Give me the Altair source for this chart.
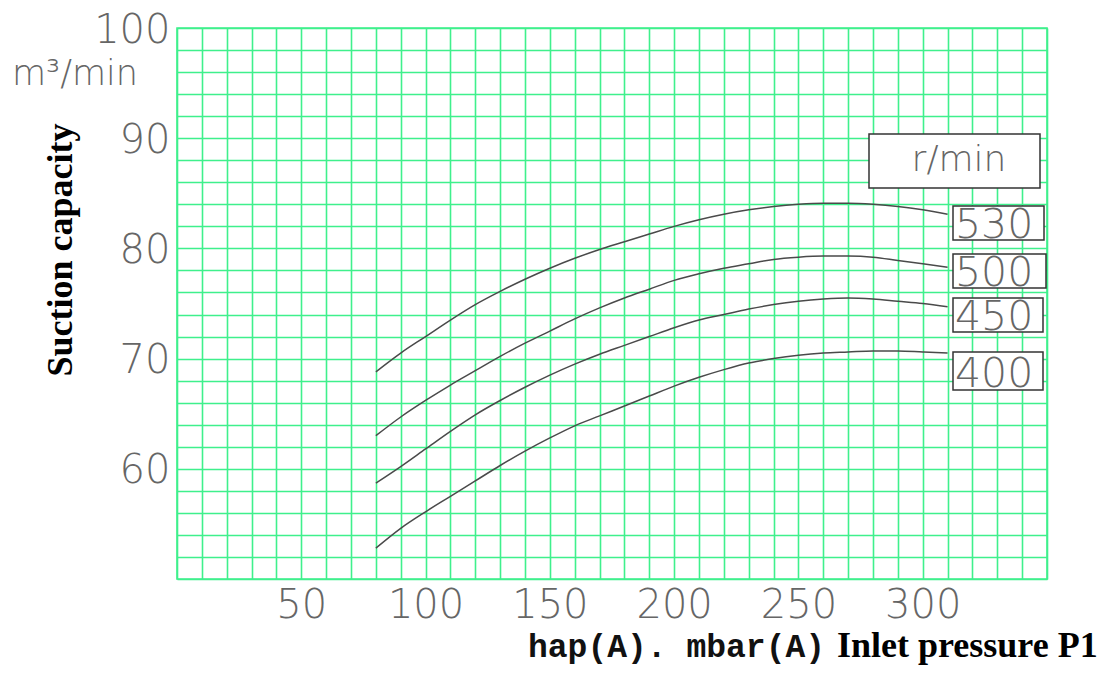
import altair as alt
import pandas as pd

# ---------------- data ----------------
pressure = [80, 90, 100, 110, 120, 130, 140, 150, 160, 170, 180, 190,
            200, 210, 220, 230, 240, 250, 260, 270, 280, 290, 300, 310]
cap_530 = [68.8, 70.5, 72.0, 73.5, 74.9, 76.1, 77.2, 78.2, 79.1, 79.9, 80.6, 81.3,
           82.0, 82.6, 83.1, 83.5, 83.8, 84.0, 84.1, 84.1, 84.0, 83.8, 83.5, 83.1]
cap_500 = [63.0, 64.7, 66.2, 67.6, 68.9, 70.2, 71.4, 72.5, 73.6, 74.6, 75.5, 76.3,
           77.1, 77.7, 78.2, 78.6, 79.0, 79.2, 79.3, 79.3, 79.2, 78.9, 78.6, 78.3]
cap_450 = [58.7, 60.2, 61.8, 63.4, 64.9, 66.2, 67.4, 68.5, 69.5, 70.4, 71.2, 72.0,
           72.8, 73.5, 74.0, 74.5, 74.9, 75.2, 75.4, 75.5, 75.4, 75.2, 75.0, 74.7]
cap_400 = [52.8, 54.6, 56.1, 57.5, 58.9, 60.3, 61.6, 62.8, 63.9, 64.8, 65.7, 66.6,
           67.5, 68.3, 69.0, 69.6, 70.0, 70.3, 70.5, 70.6, 70.7, 70.7, 70.6, 70.5]
speeds = ["530", "500", "450", "400"]
series = [cap_530, cap_500, cap_450, cap_400]

x_grid = list(range(0, 351, 10))
y_grid = list(range(50, 101, 2))

rows = []
for s, vals in zip(speeds, series):
    for p, v in zip(pressure, vals):
        rows.append({"speed": s, "p": p, "q": v})
df = pd.DataFrame(rows)

GREEN = "#3ff08c"
GRAY = "#666666"
W, H = 870, 551

lines = alt.Chart(df).mark_line(color="#4a4a4a", strokeWidth=1.5, interpolate="monotone").encode(
    x=alt.X("p:Q", scale=alt.Scale(domain=[0, 350], nice=False, zero=False),
            axis=alt.Axis(values=x_grid, title=None, grid=True, gridColor=GREEN, gridWidth=1.6,
                          gridOpacity=1, ticks=False, domain=False, labelFontSize=40,
                          labelFont="DejaVu Sans", labelFontWeight=300, labelColor=GRAY,
                          labelPadding=6, labelFlush=False, labelOverlap=False,
                          labelExpr="(datum.value % 50 == 0 && datum.value > 0 && datum.value < 350) ? datum.label : ''")),
    y=alt.Y("q:Q", scale=alt.Scale(domain=[50, 100], nice=False, zero=False),
            axis=alt.Axis(values=y_grid, title=None, grid=True, gridColor=GREEN, gridWidth=1.6,
                          gridOpacity=1, ticks=False, domain=False, labelFontSize=40,
                          labelFont="DejaVu Sans", labelFontWeight=300, labelColor=GRAY,
                          labelPadding=7, labelOffset=2, labelFlush=False, labelOverlap=False,
                          labelExpr="(datum.value % 10 == 0 && datum.value >= 60) ? datum.label : ''")),
    detail="speed:N",
)

one = alt.Data(values=[{"a": 1}])


def rect(x1, x2, y1, y2):
    return alt.Chart(one).mark_rect(fill="white", stroke="#333333", strokeWidth=1.5).encode(
        x=alt.value(x1), x2=alt.value(x2), y=alt.value(y1), y2=alt.value(y2))


def text(t, x, y, size, font="DejaVu Sans", weight="normal", color=GRAY, align="left",
         baseline="alphabetic", angle=0):
    return alt.Chart(one).mark_text(text=t, fontSize=size, font=font, fontWeight=weight, color=color,
                                    align=align, baseline=baseline, angle=angle).encode(
        x=alt.value(x), y=alt.value(y))


# legend boxes (pixel layout within plot)
legend_layout = [
    ("530", 776, 867, 178, 212, 210),
    ("500", 776, 869, 226, 260, 258),
    ("450", 776, 866, 270, 304, 302),
    ("400", 776, 866, 324, 362, 359),
]
layers = [lines]
layers.append(rect(692, 863, 106, 160))
layers.append(text("r/min", 782, 143, 36, align="center", weight=300))
for lab, x1, x2, y1, y2, yb in legend_layout:
    layers.append(rect(x1, x2, y1, y2))
    layers.append(text(lab, x1 + 2, yb, 41, weight=300))

layers.append(text("m³/min", -165, 57, 35, weight=300))
layers.append(text("Suction capacity", -116, 222, 36, font="Liberation Serif", weight="bold",
                   color="black", align="center", baseline="middle", angle=270))
layers.append(text("hap(A). mbar(A)", 351, 629, 33, font="Liberation Mono", weight="bold",
                   color="#111111"))
layers.append(text("Inlet pressure P1", 660, 629, 36, font="Liberation Serif", weight="bold",
                   color="black"))

chart = alt.layer(*layers).properties(
    width=W, height=H,
    autosize=alt.AutoSizeParams(type="none"),
    padding={"left": 177, "top": 28, "right": 67, "bottom": 94},
    background="white",
).configure_view(stroke=GREEN, strokeWidth=1.6)

chart.save("out.html", embed_options={"renderer": "svg", "actions": False})
